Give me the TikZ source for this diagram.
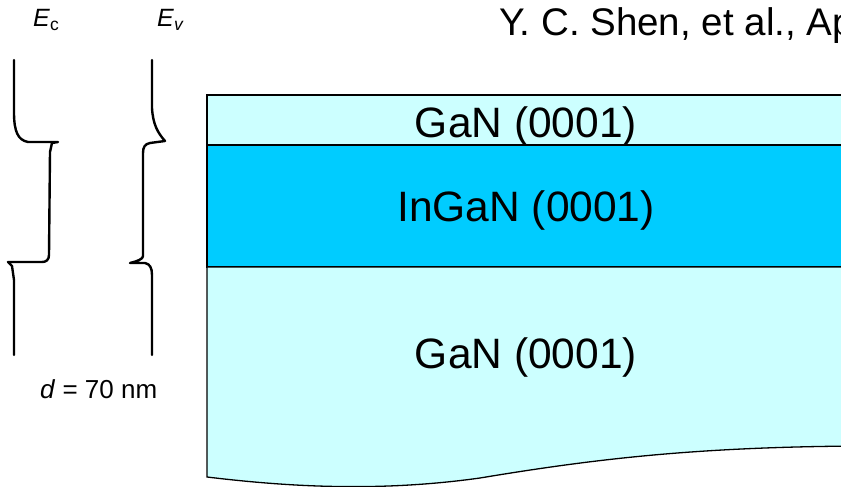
\documentclass[tikz,border=0pt]{standalone}
\usepackage{fontspec}
\setmainfont{Liberation Sans}
\begin{document}
\begin{tikzpicture}[x=1pt,y=-1pt,
  layer/.style={draw=black,line width=1.3pt},
  band/.style={draw=black,line width=2.4pt,line join=round,line cap=round},
  big/.style={font=\fontsize{42.5}{46}\selectfont},
  small/.style={anchor=base west,inner sep=0pt,font=\fontsize{25}{30}\selectfont}]
\useasboundingbox (0,0) rectangle (841,487);
\clip (0,0) rectangle (841,487);
\definecolor{lightcyan}{HTML}{CCFFFF}
\definecolor{ingan}{HTML}{00CCFF}
% layers
\path[layer,fill=lightcyan] (207,95) rectangle (860,145);
\path[layer,fill=ingan] (207,145) rectangle (860,267);
\path[layer,fill=lightcyan] (860,267) -- (207,267) -- (207,477)
  .. controls (290,487) and (380,492) .. (480,478)
  .. controls (600,458) and (700,447) .. (860,446);
\node[big] (gantop) at (526,127) {GaN (0001)};
\node[big] (ingan) at (526,211) {InGaN (0001)};
\node[big] (ganbot) at (526,357) {GaN (0001)};
% citation
\node[anchor=base west,inner sep=0pt,font=\fontsize{38.5}{44}\selectfont] (cite) at (499,36) {Y. C. Shen, et al., Ap};
% band labels
\node[small] (ec) at (33,27) {\textit{E}\textsubscript{c}};
\node[small] (ev) at (157,27) {\textit{E}\textsubscript{\textit{v}}};
\node[small,font=\fontsize{26}{30}\selectfont] (d) at (40,398) {\textit{d} = 70 nm};
% band edges
\draw[band] (14,60) -- (14,112) .. controls (14,132) and (18,140) .. (28,142)
  -- (58,142) -- (52,143) -- (50,152) -- (49,255)
  .. controls (49,260) and (46,262) .. (42,262) -- (8,262) -- (12,266) -- (14,280) -- (14,355);
\draw[band] (152,60) -- (152,108) .. controls (153,125) and (158,133) .. (165,141)
  -- (150,143) .. controls (145,144) and (143,147) .. (143,153) -- (143,256)
  .. controls (143,259) and (138,261) .. (130,263) -- (145,263)
  .. controls (150,264) and (152,268) .. (152,275) -- (152,355);
\end{tikzpicture}
\end{document}
